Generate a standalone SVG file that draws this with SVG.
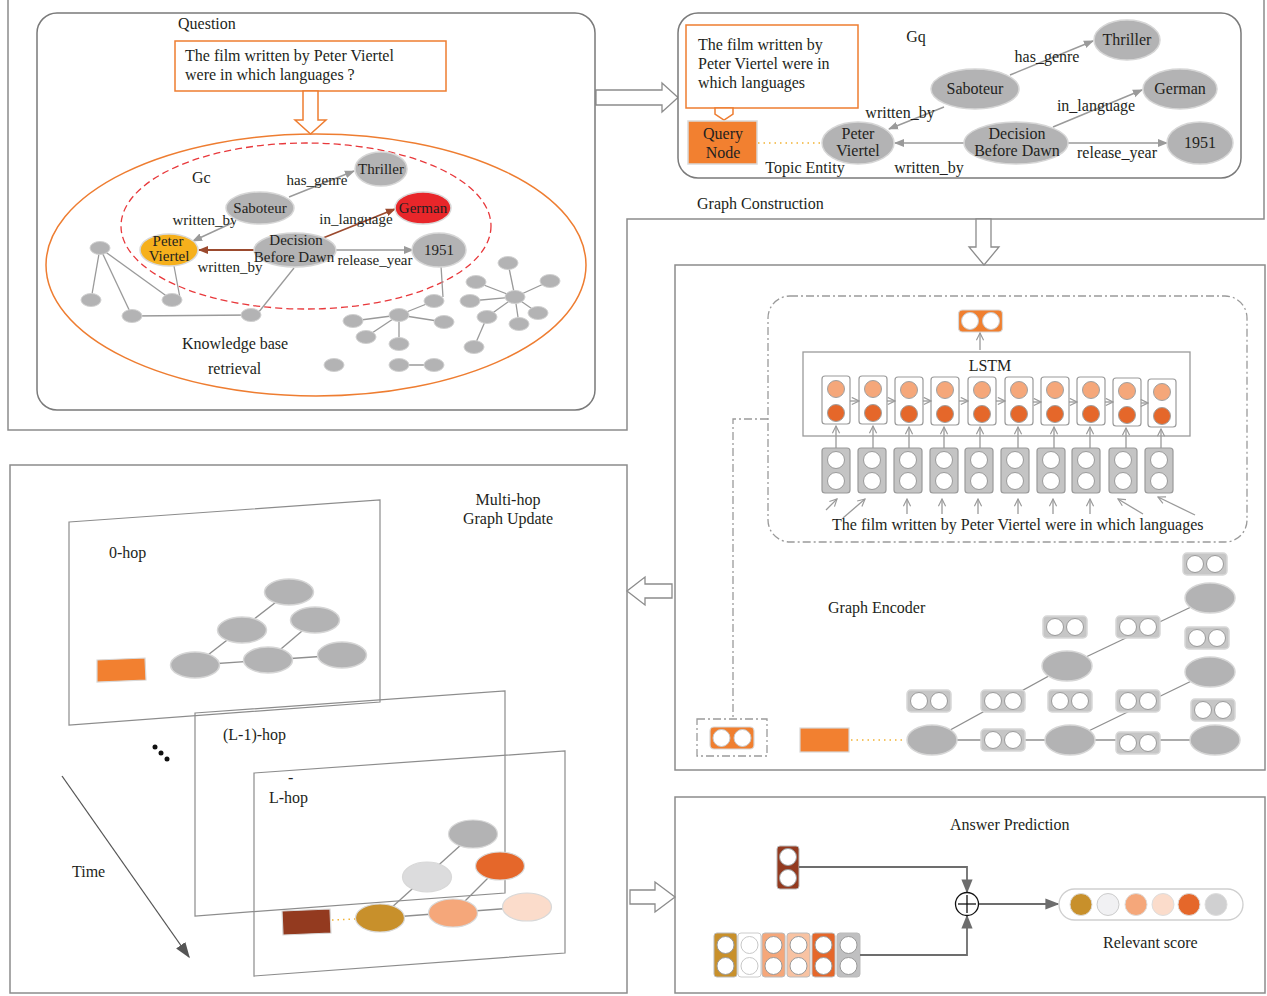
<svg xmlns="http://www.w3.org/2000/svg" width="1267" height="996" viewBox="0 0 1267 996">
<style>
text{font-family:"Liberation Serif","DejaVu Serif",serif;font-size:16px;fill:#231f20}
.mid{text-anchor:middle}
.sm{font-size:15px}
.frame{fill:none;stroke:#8c8c8c;stroke-width:1.5}
.panel{fill:#fff;stroke:#8c8c8c;stroke-width:1.5}
.hollow{fill:#fff;stroke:#8c8c8c;stroke-width:1.3}
.ob{fill:#fff;stroke:#ee7d31;stroke-width:1.5}
.gn{fill:#b3b3b4;stroke:#d6d6d6;stroke-width:1.5}
.kb{fill:#b3b3b4;stroke:#d0d0d0;stroke-width:1}
.kbe{stroke:#9a9a9a;stroke-width:1.3;fill:none}
.e{stroke:#9a9a9a;stroke-width:1.5;fill:none;marker-end:url(#ag)}
.eb{stroke:#9b4a2e;stroke-width:1.8;fill:none;marker-end:url(#ab)}
.cell{fill:#fff;stroke:#9a9a9a;stroke-width:1.2}
.lo{fill:#f5a77a;stroke:#a0a0a0;stroke-width:1}
.do{fill:#e5672a;stroke:#a0a0a0;stroke-width:1}
.ib{fill:#c4c4c4;stroke:#9a9a9a;stroke-width:1.2}
.wc{fill:#fff;stroke:#9a9a9a;stroke-width:1}
.la{stroke:#9a9a9a;stroke-width:1.3;fill:none;marker-end:url(#open)}
.dd{fill:none;stroke:#9a9a9a;stroke-width:1.3;stroke-dasharray:8 3 2 3}
.plane{fill:none;stroke:#8c8c8c;stroke-width:1.2}
.ge{stroke:#8f8f8f;stroke-width:1.3;fill:none}
.dot{stroke:#f2b233;stroke-width:1.6;stroke-dasharray:1.5 4;fill:none}
.ap{stroke:#6d6d6d;stroke-width:1.8;fill:none}
.pn{stroke:#d8d8d8;stroke-width:1.2}
</style>
<defs>
<marker id="ag" viewBox="0 0 10 10" refX="9" refY="5" markerWidth="10" markerHeight="10" markerUnits="userSpaceOnUse" orient="auto"><path d="M0,1 L10,5 L0,9 z" fill="#9a9a9a"/></marker>
<marker id="ab" viewBox="0 0 10 10" refX="9" refY="5" markerWidth="10" markerHeight="10" markerUnits="userSpaceOnUse" orient="auto"><path d="M0,1 L10,5 L0,9 z" fill="#9b4a2e"/></marker>
<marker id="open" viewBox="0 0 10 10" refX="9" refY="5" markerWidth="9" markerHeight="9" markerUnits="userSpaceOnUse" orient="auto"><path d="M1,1 L9,5 L1,9" fill="none" stroke="#9a9a9a" stroke-width="1.3"/></marker>
<marker id="ad" viewBox="0 0 10 10" refX="9" refY="5" markerWidth="14" markerHeight="14" markerUnits="userSpaceOnUse" orient="auto"><path d="M0,1 L10,5 L0,9 z" fill="#6d6d6d"/></marker>
<marker id="at" viewBox="0 0 10 10" refX="9" refY="5" markerWidth="16" markerHeight="16" markerUnits="userSpaceOnUse" orient="auto"><path d="M0,1.5 L10,5 L0,8.5 z" fill="#555"/></marker>
<g id="vg"><rect x="-22" y="-11" width="44" height="22" rx="4" fill="#c6c6c6" stroke="#d8d8d8" stroke-width="1.5"/><circle cx="-10" cy="0" r="8.5" class="wc"/><circle cx="10" cy="0" r="8.5" class="wc"/></g>
<g id="vo"><rect x="-22" y="-11" width="44" height="22" rx="4" fill="#f07f2f" stroke="#d8d8d8" stroke-width="1.2"/><circle cx="-10.5" cy="0" r="8.5" fill="#fff" stroke="#c9c9c9"/><circle cx="10.5" cy="0" r="8.5" fill="#fff" stroke="#c9c9c9"/></g>
</defs>

<!-- frames and panels -->
<g id="frames">
<polyline class="frame" points="8,0 8,430 627,430 627,219 1264,219 1264,0"/>
<rect x="675" y="265" width="590" height="505" class="panel"/>
<rect x="10" y="465" width="617" height="528" class="panel"/>
<rect x="675" y="797" width="590" height="196" class="panel"/>
<polygon class="hollow" points="596,90 662,90 662,83 678,97.5 662,112 662,105 596,105"/>
<polygon class="hollow" points="976,219 991,219 991,247 999,247 984,265 969,247 976,247"/>
<polygon class="hollow" points="672,584 645,584 645,577 627,591 645,605 645,598 672,598"/>
<polygon class="hollow" points="630,890 655,890 655,882 675,897 655,912 655,904 630,904"/>
<text x="697" y="209">Graph Construction</text>
</g>

<!-- Question / knowledge base panel -->
<g id="question-panel">
<rect x="37" y="13" width="558" height="397" rx="20" fill="#fff" stroke="#7a7a7a" stroke-width="1.5"/>
<text x="178" y="29">Question</text>
<rect x="175" y="41" width="271" height="50" class="ob"/>
<text x="185" y="61">The film written by Peter Viertel</text>
<text x="185" y="80">were in which languages ?</text>
<polygon class="ob" points="303,91 318,91 318,120 326,120 310.5,134 295,120 303,120"/>
<ellipse cx="316" cy="265" rx="270" ry="131" fill="none" stroke="#ee7d31" stroke-width="1.5"/>
<ellipse cx="306" cy="226" rx="185" ry="83" fill="none" stroke="#e8383b" stroke-width="1.3" stroke-dasharray="7 4"/>
<text x="192" y="183">Gc</text>
<text x="182" y="349">Knowledge base</text>
<text x="208" y="374">retrieval</text>
</g>

<g id="kb-connectors">
<line class="kbe" x1="100" y1="248" x2="91" y2="300"/>
<line class="kbe" x1="100" y1="248" x2="172" y2="300"/>
<line class="kbe" x1="100" y1="248" x2="132" y2="316"/>
<line class="kbe" x1="132" y1="316" x2="251" y2="315"/>
<line class="kbe" x1="180" y1="298" x2="174" y2="266"/>
<line class="kbe" x1="258" y1="313" x2="294" y2="268"/>
<line class="kbe" x1="443" y1="297" x2="441" y2="266"/>
<line class="kbe" x1="399" y1="315" x2="434" y2="301"/>
<line class="kbe" x1="399" y1="315" x2="353" y2="321"/>
<line class="kbe" x1="399" y1="315" x2="444" y2="322"/>
<line class="kbe" x1="399" y1="315" x2="366" y2="337"/>
<line class="kbe" x1="399" y1="315" x2="399" y2="344"/>
<line class="kbe" x1="515" y1="297" x2="508" y2="263"/>
<line class="kbe" x1="515" y1="297" x2="476" y2="282"/>
<line class="kbe" x1="515" y1="297" x2="550" y2="281"/>
<line class="kbe" x1="515" y1="297" x2="470" y2="301"/>
<line class="kbe" x1="515" y1="297" x2="487" y2="317"/>
<line class="kbe" x1="515" y1="297" x2="519" y2="324"/>
<line class="kbe" x1="515" y1="297" x2="538" y2="313"/>
<line class="kbe" x1="487" y1="317" x2="474" y2="347"/>
<line class="kbe" x1="399" y1="365" x2="434" y2="365"/>
<line class="e" x1="289" y1="197" x2="354" y2="171"/>
<line class="e" x1="232" y1="223" x2="193" y2="241"/>
<line class="eb" x1="254" y1="250" x2="199" y2="250"/>
<line class="eb" x1="323" y1="238" x2="395" y2="209"/>
<line class="e" x1="336" y1="250" x2="413" y2="250"/>
<text class="mid sm" x="205" y="225">written_by</text>
</g>

<g id="kb-nodes">
<ellipse class="kb" cx="100" cy="248" rx="10" ry="6.5"/>
<ellipse class="kb" cx="91" cy="300" rx="10" ry="6.5"/>
<ellipse class="kb" cx="172" cy="300" rx="10" ry="6.5"/>
<ellipse class="kb" cx="132" cy="316" rx="10" ry="6.5"/>
<ellipse class="kb" cx="251" cy="315" rx="10" ry="6.5"/>
<ellipse class="kb" cx="434" cy="301" rx="10" ry="6.5"/>
<ellipse class="kb" cx="508" cy="263" rx="10" ry="6.5"/>
<ellipse class="kb" cx="476" cy="282" rx="10" ry="6.5"/>
<ellipse class="kb" cx="550" cy="281" rx="10" ry="6.5"/>
<ellipse class="kb" cx="470" cy="301" rx="10" ry="6.5"/>
<ellipse class="kb" cx="515" cy="297" rx="10" ry="6.5"/>
<ellipse class="kb" cx="487" cy="317" rx="10" ry="6.5"/>
<ellipse class="kb" cx="538" cy="313" rx="10" ry="6.5"/>
<ellipse class="kb" cx="519" cy="324" rx="10" ry="6.5"/>
<ellipse class="kb" cx="474" cy="347" rx="10" ry="6.5"/>
<ellipse class="kb" cx="353" cy="321" rx="10" ry="6.5"/>
<ellipse class="kb" cx="399" cy="315" rx="10" ry="6.5"/>
<ellipse class="kb" cx="444" cy="322" rx="10" ry="6.5"/>
<ellipse class="kb" cx="366" cy="337" rx="10" ry="6.5"/>
<ellipse class="kb" cx="399" cy="344" rx="10" ry="6.5"/>
<ellipse class="kb" cx="334" cy="365" rx="10" ry="6.5"/>
<ellipse class="kb" cx="399" cy="365" rx="10" ry="6.5"/>
<ellipse class="kb" cx="434" cy="365" rx="10" ry="6.5"/>
</g>

<g id="kb-thriller"><ellipse class="gn" cx="381" cy="169" rx="26" ry="17"/><text class="mid sm" x="381" y="174">Thriller</text></g>
<g id="kb-saboteur"><ellipse class="gn" cx="260" cy="208" rx="34" ry="16"/><text class="mid sm" x="260" y="213">Saboteur</text></g>
<g id="kb-german"><ellipse cx="423" cy="208" rx="28" ry="16" fill="#e8262a" stroke="#d8d8d8" stroke-width="1.5"/><text class="mid sm" x="423" y="213">German</text></g>
<g id="kb-peter"><ellipse cx="169" cy="250" rx="29" ry="16" fill="#f6b01c" stroke="#d8d8d8" stroke-width="1.5"/><text class="mid sm" x="168" y="246">Peter</text><text class="mid sm" x="169" y="261">Viertel</text></g>
<g id="kb-decision"><ellipse class="gn" cx="295" cy="250" rx="41" ry="17"/><text class="mid sm" x="296" y="245">Decision</text><text class="mid sm" x="294" y="262">Before Dawn</text></g>
<g id="kb-1951"><ellipse class="gn" cx="439" cy="250" rx="27" ry="17"/><text class="mid sm" x="439" y="255">1951</text></g>

<g id="kb-labels">
<text class="mid sm" x="317" y="185">has_genre</text>
<text class="mid sm" x="356" y="224">in_language</text>
<text class="mid sm" x="230" y="272">written_by</text>
<text class="mid sm" x="375" y="265">release_year</text>
</g>

<!-- Graph construction panel -->
<g id="gq-panel">
<rect x="678" y="13" width="563" height="165" rx="20" fill="#fff" stroke="#7a7a7a" stroke-width="1.5"/>
<rect x="686" y="25" width="172" height="83" class="ob"/>
<text x="698" y="50">The film written by</text>
<text x="698" y="69">Peter Viertel were in</text>
<text x="698" y="88">which languages</text>
<polygon class="ob" points="715,108 733,108 733,114 724,120 715,114"/>
<text x="916" y="42" class="mid">Gq</text>
<text x="805" y="173" class="mid">Topic Entity</text>
</g>
<g id="gq-query"><rect x="688" y="121" width="69" height="43" fill="#f28030" stroke="#d9d9d9" stroke-width="1.5"/><text class="mid" x="723" y="139" fill="#3a2a20">Query</text><text class="mid" x="723" y="158" fill="#3a2a20">Node</text></g>
<g id="gq-connectors">
<line class="dot" x1="758" y1="143" x2="821" y2="143"/>
<line class="e" x1="1010" y1="75" x2="1093" y2="41"/>
<line class="e" x1="944" y1="107" x2="889" y2="129"/>
<line class="e" x1="1053" y1="127" x2="1142" y2="90"/>
<line class="e" x1="965" y1="143" x2="895" y2="143"/>
<line class="e" x1="1068" y1="143" x2="1167" y2="143"/>
<text class="mid" x="1047" y="62">has_genre</text>
<text class="mid" x="900" y="118">written_by</text>
<text class="mid" x="1096" y="111">in_language</text>
<text class="mid" x="1117" y="158">release_year</text>
<text class="mid" x="929" y="173">written_by</text>
</g>
<g id="gq-thriller"><ellipse class="gn" cx="1127" cy="40" rx="33" ry="20"/><text class="mid" x="1127" y="45">Thriller</text></g>
<g id="gq-saboteur"><ellipse class="gn" cx="975" cy="89" rx="44" ry="20"/><text class="mid" x="975" y="94">Saboteur</text></g>
<g id="gq-german"><ellipse class="gn" cx="1180" cy="89" rx="37" ry="20"/><text class="mid" x="1180" y="94">German</text></g>
<g id="gq-peter"><ellipse class="gn" cx="858" cy="143" rx="36" ry="21"/><text class="mid" x="858" y="139">Peter</text><text class="mid" x="858" y="156">Viertel</text></g>
<g id="gq-decision"><ellipse class="gn" cx="1016" cy="143" rx="52" ry="21"/><text class="mid" x="1017" y="139">Decision</text><text class="mid" x="1017" y="156">Before Dawn</text></g>
<g id="gq-1951"><ellipse class="gn" cx="1200" cy="143" rx="33" ry="21"/><text class="mid" x="1200" y="148">1951</text></g>

<!-- Graph encoder panel -->
<g id="encoder-lstm">
<rect x="768" y="296" width="479" height="246" rx="22" class="dd"/>
<polyline class="dd" points="768,419 733,419 733,719"/>
<use href="#vo" x="980.5" y="321"/>
<line class="la" x1="980" y1="350" x2="980" y2="333"/>
<rect x="803" y="352" width="387" height="84" fill="#fff" stroke="#9a9a9a" stroke-width="1.3"/>
<text class="mid" x="990" y="371">LSTM</text>
<g id="lstm-cells">
<rect class="cell" x="822" y="376" width="28" height="48" rx="3"/><circle class="lo" cx="836" cy="389" r="8.5"/><circle class="do" cx="836" cy="413" r="8.5"/>
<rect class="cell" x="859" y="376" width="28" height="48" rx="3"/><circle class="lo" cx="873" cy="389" r="8.5"/><circle class="do" cx="873" cy="413" r="8.5"/>
<rect class="cell" x="895" y="377" width="28" height="48" rx="3"/><circle class="lo" cx="909" cy="390" r="8.5"/><circle class="do" cx="909" cy="414" r="8.5"/>
<rect class="cell" x="931" y="377" width="28" height="48" rx="3"/><circle class="lo" cx="945" cy="390" r="8.5"/><circle class="do" cx="945" cy="414" r="8.5"/>
<rect class="cell" x="968" y="377" width="28" height="48" rx="3"/><circle class="lo" cx="982" cy="390" r="8.5"/><circle class="do" cx="982" cy="414" r="8.5"/>
<rect class="cell" x="1005" y="377" width="28" height="48" rx="3"/><circle class="lo" cx="1019" cy="390" r="8.5"/><circle class="do" cx="1019" cy="414" r="8.5"/>
<rect class="cell" x="1041" y="377" width="28" height="48" rx="3"/><circle class="lo" cx="1055" cy="390" r="8.5"/><circle class="do" cx="1055" cy="414" r="8.5"/>
<rect class="cell" x="1077" y="377" width="28" height="48" rx="3"/><circle class="lo" cx="1091" cy="390" r="8.5"/><circle class="do" cx="1091" cy="414" r="8.5"/>
<rect class="cell" x="1113" y="378" width="28" height="48" rx="3"/><circle class="lo" cx="1127" cy="391" r="8.5"/><circle class="do" cx="1127" cy="415" r="8.5"/>
<rect class="cell" x="1148" y="379" width="28" height="48" rx="3"/><circle class="lo" cx="1162" cy="392" r="8.5"/><circle class="do" cx="1162" cy="416" r="8.5"/>
</g>
<g id="lstm-arrows">
<line class="la" x1="850" y1="401" x2="859" y2="401"/>
<line class="la" x1="887" y1="401" x2="895" y2="401"/>
<line class="la" x1="923" y1="401" x2="931" y2="401"/>
<line class="la" x1="959" y1="401" x2="968" y2="401"/>
<line class="la" x1="996" y1="401" x2="1005" y2="401"/>
<line class="la" x1="1033" y1="402" x2="1041" y2="402"/>
<line class="la" x1="1069" y1="402" x2="1077" y2="402"/>
<line class="la" x1="1105" y1="402" x2="1113" y2="402"/>
<line class="la" x1="1141" y1="403" x2="1148" y2="403"/>
<line class="la" x1="836" y1="448" x2="836" y2="426"/>
<line class="la" x1="873" y1="448" x2="873" y2="426"/>
<line class="la" x1="909" y1="448" x2="909" y2="427"/>
<line class="la" x1="944" y1="448" x2="944" y2="427"/>
<line class="la" x1="980" y1="448" x2="980" y2="427"/>
<line class="la" x1="1018" y1="448" x2="1018" y2="427"/>
<line class="la" x1="1054" y1="448" x2="1054" y2="427"/>
<line class="la" x1="1090" y1="448" x2="1090" y2="427"/>
<line class="la" x1="1126" y1="448" x2="1126" y2="428"/>
<line class="la" x1="1161" y1="448" x2="1161" y2="429"/>
<line class="la" x1="826" y1="510" x2="837" y2="499"/>
<line class="la" x1="843" y1="518" x2="865" y2="499"/>
<line class="la" x1="907" y1="514" x2="907" y2="499"/>
<line class="la" x1="942" y1="514" x2="942" y2="499"/>
<line class="la" x1="978" y1="514" x2="978" y2="499"/>
<line class="la" x1="1018" y1="514" x2="1018" y2="499"/>
<line class="la" x1="1053" y1="514" x2="1053" y2="499"/>
<line class="la" x1="1090" y1="514" x2="1090" y2="499"/>
<line class="la" x1="1143" y1="514" x2="1118" y2="499"/>
<line class="la" x1="1195" y1="515" x2="1158" y2="497"/>
</g>
<g id="input-vectors">
<rect class="ib" x="822" y="448" width="28" height="45" rx="3"/><circle class="wc" cx="836" cy="460" r="8.5"/><circle class="wc" cx="836" cy="481" r="8.5"/>
<rect class="ib" x="858" y="448" width="28" height="45" rx="3"/><circle class="wc" cx="872" cy="460" r="8.5"/><circle class="wc" cx="872" cy="481" r="8.5"/>
<rect class="ib" x="894" y="448" width="28" height="45" rx="3"/><circle class="wc" cx="908" cy="460" r="8.5"/><circle class="wc" cx="908" cy="481" r="8.5"/>
<rect class="ib" x="930" y="448" width="28" height="45" rx="3"/><circle class="wc" cx="944" cy="460" r="8.5"/><circle class="wc" cx="944" cy="481" r="8.5"/>
<rect class="ib" x="965" y="448" width="28" height="45" rx="3"/><circle class="wc" cx="979" cy="460" r="8.5"/><circle class="wc" cx="979" cy="481" r="8.5"/>
<rect class="ib" x="1001" y="448" width="28" height="45" rx="3"/><circle class="wc" cx="1015" cy="460" r="8.5"/><circle class="wc" cx="1015" cy="481" r="8.5"/>
<rect class="ib" x="1037" y="448" width="28" height="45" rx="3"/><circle class="wc" cx="1051" cy="460" r="8.5"/><circle class="wc" cx="1051" cy="481" r="8.5"/>
<rect class="ib" x="1072" y="448" width="28" height="45" rx="3"/><circle class="wc" cx="1086" cy="460" r="8.5"/><circle class="wc" cx="1086" cy="481" r="8.5"/>
<rect class="ib" x="1109" y="448" width="28" height="45" rx="3"/><circle class="wc" cx="1123" cy="460" r="8.5"/><circle class="wc" cx="1123" cy="481" r="8.5"/>
<rect class="ib" x="1145" y="448" width="28" height="45" rx="3"/><circle class="wc" cx="1159" cy="460" r="8.5"/><circle class="wc" cx="1159" cy="481" r="8.5"/>
</g>
<text x="832" y="530">The film written by Peter Viertel were in which languages</text>
</g>

<g id="encoder-graph">
<text x="828" y="613">Graph Encoder</text>
<rect x="697" y="719" width="70" height="37" class="dd"/>
<use href="#vo" x="732" y="738"/>
<rect x="800" y="728" width="49" height="24" fill="#f28030" stroke="#d8d8d8" stroke-width="1.2"/>
<line class="dot" x1="851" y1="740" x2="905" y2="740"/>
<g id="enc-edges">
<line class="ge" x1="932" y1="740" x2="1215" y2="740"/>
<line class="ge" x1="932" y1="740" x2="1067" y2="666"/>
<line class="ge" x1="1067" y1="666" x2="1210" y2="598"/>
<line class="ge" x1="1070" y1="740" x2="1210" y2="672"/>
</g>
<ellipse class="gn" cx="932" cy="740" rx="25" ry="15"/>
<ellipse class="gn" cx="1067" cy="666" rx="25" ry="15"/>
<ellipse class="gn" cx="1070" cy="740" rx="25" ry="15"/>
<ellipse class="gn" cx="1210" cy="598" rx="25" ry="15"/>
<ellipse class="gn" cx="1210" cy="672" rx="25" ry="15"/>
<ellipse class="gn" cx="1215" cy="740" rx="25" ry="15"/>
<use href="#vg" x="929" y="701"/>
<use href="#vg" x="1003" y="701"/>
<use href="#vg" x="1070" y="701"/>
<use href="#vg" x="1138" y="701"/>
<use href="#vg" x="1065" y="627"/>
<use href="#vg" x="1138" y="627"/>
<use href="#vg" x="1205" y="564"/>
<use href="#vg" x="1207" y="638"/>
<use href="#vg" x="1213" y="710"/>
<use href="#vg" x="1003" y="740"/>
<use href="#vg" x="1138" y="743"/>
</g>

<!-- Multi-hop panel -->
<g id="multihop">
<text class="mid" x="508" y="505">Multi-hop</text>
<text class="mid" x="508" y="524">Graph Update</text>
<polygon class="plane" points="69,522 380,500 380,702 69,725"/>
<polygon class="plane" points="195,713 505,691 505,893 195,916"/>
<polygon class="plane" points="254,773 565,751 565,953 254,976"/>
<text x="109" y="558">0-hop</text>
<text x="223" y="740">(L-1)-hop</text>
<text x="288" y="783">-</text>
<text x="269" y="803">L-hop</text>
<text x="72" y="877">Time</text>
<circle cx="155" cy="747" r="2.5" fill="#111"/>
<circle cx="161" cy="753" r="2.5" fill="#111"/>
<circle cx="167" cy="759" r="2.5" fill="#111"/>
<line x1="62" y1="776" x2="189" y2="957" stroke="#555" stroke-width="1.3" marker-end="url(#at)"/>
<g id="hop0">
<line class="ge" x1="195" y1="665" x2="342" y2="655"/>
<line class="ge" x1="195" y1="665" x2="289" y2="592"/>
<line class="ge" x1="268" y1="660" x2="315" y2="620"/>
<ellipse class="gn" cx="289" cy="592" rx="24.5" ry="13"/>
<ellipse class="gn" cx="242" cy="630" rx="24.5" ry="13"/>
<ellipse class="gn" cx="315" cy="620" rx="24.5" ry="13"/>
<ellipse class="gn" cx="195" cy="665" rx="24.5" ry="13"/>
<ellipse class="gn" cx="268" cy="660" rx="24.5" ry="13"/>
<ellipse class="gn" cx="342" cy="655" rx="24.5" ry="13"/>
<polygon points="97,660 145,658 146,680 97,682" fill="#f28030" stroke="#d8d8d8" stroke-width="1.2"/>
</g>
<g id="hopL">
<line class="ge" x1="380" y1="918" x2="527" y2="907"/>
<line class="ge" x1="380" y1="918" x2="473" y2="834"/>
<line class="ge" x1="453" y1="913" x2="500" y2="866"/>
<line class="dot" x1="332" y1="920" x2="355" y2="919"/>
<ellipse class="pn" cx="473" cy="834" rx="24.5" ry="14" fill="#b3b3b4"/>
<ellipse class="pn" cx="427" cy="877" rx="24.5" ry="15" fill="#dcdcdd"/>
<ellipse class="pn" cx="500" cy="866" rx="24.5" ry="14" fill="#e5672a"/>
<ellipse class="pn" cx="380" cy="918" rx="24.5" ry="14" fill="#c8902b"/>
<ellipse class="pn" cx="453" cy="913" rx="24.5" ry="14" fill="#f5a77a"/>
<ellipse class="pn" cx="527" cy="907" rx="24.5" ry="14" fill="#fbdccb"/>
<polygon points="282,911 330,909 331,933 283,935" fill="#933a1f" stroke="#d8d8d8" stroke-width="1.2"/>
</g>
</g>

<!-- Answer prediction panel -->
<g id="answer">
<text x="950" y="830">Answer Prediction</text>
<rect x="777" y="846" width="22" height="43" rx="3" fill="#933a1f" stroke="#bbb" stroke-width="1"/>
<circle cx="788" cy="857" r="8.5" class="wc"/><circle cx="788" cy="878" r="8.5" class="wc"/>
<g id="cand-vectors">
<rect x="714" y="933" width="23" height="44" rx="3" fill="#c8902b" stroke="#bbb"/><circle cx="725.5" cy="945" r="8.5" class="wc"/><circle cx="725.5" cy="966" r="8.5" class="wc"/>
<rect x="738" y="933" width="23" height="44" rx="3" fill="#fff" stroke="#ccc"/><circle cx="749.5" cy="945" r="8.5" fill="#fff" stroke="#c8c8c8"/><circle cx="749.5" cy="966" r="8.5" fill="#fff" stroke="#c8c8c8"/>
<rect x="762" y="933" width="23" height="44" rx="3" fill="#f5a77a" stroke="#bbb"/><circle cx="773.5" cy="945" r="8.5" class="wc"/><circle cx="773.5" cy="966" r="8.5" class="wc"/>
<rect x="787" y="933" width="23" height="44" rx="3" fill="#f8c3a3" stroke="#bbb"/><circle cx="798.5" cy="945" r="8.5" class="wc"/><circle cx="798.5" cy="966" r="8.5" class="wc"/>
<rect x="812" y="933" width="23" height="44" rx="3" fill="#e5672a" stroke="#bbb"/><circle cx="823.5" cy="945" r="8.5" class="wc"/><circle cx="823.5" cy="966" r="8.5" class="wc"/>
<rect x="837" y="933" width="23" height="44" rx="3" fill="#c0c0c1" stroke="#bbb"/><circle cx="848.5" cy="945" r="8.5" class="wc"/><circle cx="848.5" cy="966" r="8.5" class="wc"/>
</g>
<polyline class="ap" points="799,867 967,867 967,892" marker-end="url(#ad)"/>
<polyline class="ap" points="860,955 967,955 967,916" marker-end="url(#ad)"/>
<line class="ap" x1="979" y1="904" x2="1058" y2="904" marker-end="url(#ad)"/>
<circle cx="967" cy="904" r="11.5" fill="#fff" stroke="#111" stroke-width="1.3"/>
<line x1="958" y1="904" x2="976" y2="904" stroke="#111" stroke-width="1.3"/>
<line x1="967" y1="895" x2="967" y2="913" stroke="#111" stroke-width="1.3"/>
<rect x="1059" y="889" width="184" height="31" rx="15.5" fill="#fff" stroke="#cfcfcf" stroke-width="1.3"/>
<circle cx="1081" cy="904.5" r="11" fill="#c8902b" stroke="#ddd"/>
<circle cx="1108" cy="904.5" r="11" fill="#f1f1f3" stroke="#ccc"/>
<circle cx="1136" cy="904.5" r="11" fill="#f5a77a" stroke="#ddd"/>
<circle cx="1163" cy="904.5" r="11" fill="#fbdccb" stroke="#ddd"/>
<circle cx="1189" cy="904.5" r="11" fill="#e5672a" stroke="#ddd"/>
<circle cx="1216" cy="904.5" r="11" fill="#d0d0d1" stroke="#ddd"/>
<text x="1103" y="948">Relevant score</text>
</g>
</svg>
